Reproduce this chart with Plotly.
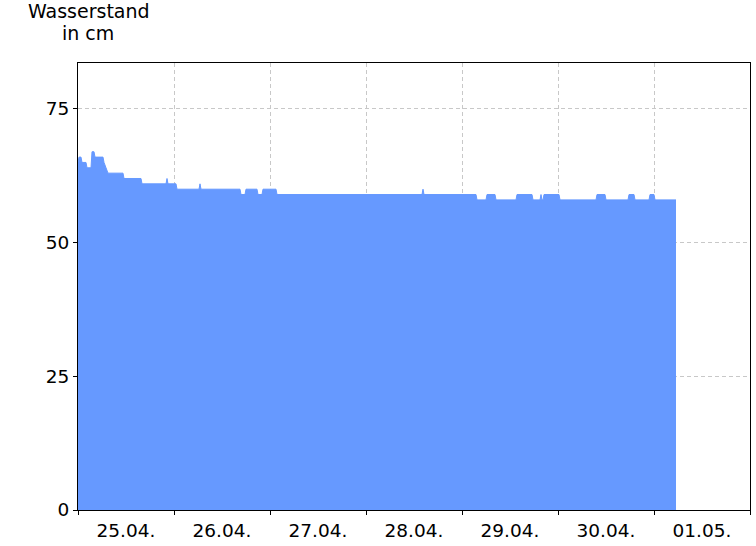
import pandas as pd
import plotly.graph_objects as go

start_date = "2024-04-25 00:00"
hours_since_start = [
    0.0, 0.25, 0.75, 1.0, 2.0, 2.25, 3.25, 3.5, 4.0, 4.25, 6.25, 6.5, 7.0, 7.5,
    11.25, 11.5, 15.75, 16.0, 22.0, 22.25, 22.5, 24.5, 24.75,
    30.25, 30.5, 30.75, 40.5, 40.75, 41.75, 42.0, 44.75, 45.0, 46.0, 46.25, 49.5, 49.75,
    86.0, 86.25, 86.5, 99.5, 99.75, 102.0, 102.25, 104.25, 104.5, 109.5, 109.75,
    113.5, 113.75, 115.5, 115.75, 116.0, 116.25, 116.5, 120.25, 120.5,
    129.5, 129.75, 131.75, 132.0, 137.5, 137.75, 139.0, 139.25,
    142.75, 143.0, 144.0, 144.25, 149.5,
]
water_level_cm = [
    65, 66, 66, 65, 65, 64, 64, 67, 67, 66, 66, 65, 64, 63,
    63, 62, 62, 61, 61, 62, 61, 61, 60,
    60, 61, 60, 60, 59, 59, 60, 60, 59, 59, 60, 60, 59,
    59, 60, 59, 59, 58, 58, 59, 59, 58, 58, 59,
    59, 58, 58, 59, 58, 58, 59, 59, 58,
    58, 59, 59, 58, 58, 59, 59, 58,
    58, 59, 59, 58, 58,
]
y_ticks = [0, 25, 50, 75]
x_range = ["2024-04-25 00:00", "2024-05-02 00:00"]
y_range = [0, 83.6]

times = pd.to_datetime(start_date) + pd.to_timedelta(hours_since_start, unit="h")

FONT = "DejaVu Sans, Arial, sans-serif"
fig = go.Figure()
fig.add_trace(go.Scatter(
    x=times, y=water_level_cm, mode="lines", fill="tozeroy",
    line=dict(color="#6699ff", width=1), fillcolor="#6699ff",
    hoverinfo="skip", showlegend=False,
))

fig.update_layout(
    width=756, height=546,
    margin=dict(l=78, r=5, t=63, b=33, pad=0),
    paper_bgcolor="white", plot_bgcolor="white",
    font=dict(family=FONT, size=18.5, color="black"),
    xaxis=dict(
        type="date", range=x_range, dtick=86400000, tick0="2024-04-25",
        tickformat="%d.%m.", ticklabelmode="period",
        showgrid=True, gridcolor="#c8c8c8", griddash="4px,3px", gridwidth=1,
        showline=True, linecolor="black", linewidth=1, mirror=True,
        ticks="outside", ticklen=4, tickcolor="black",
        zeroline=False, layer="above traces",
    ),
    yaxis=dict(
        range=y_range, tickvals=y_ticks,
        showgrid=True, gridcolor="#c8c8c8", griddash="4px,3px", gridwidth=1,
        showline=True, linecolor="black", linewidth=1, mirror=True,
        ticks="outside", ticklen=4, tickcolor="black",
        zeroline=False, layer="above traces",
    ),
    annotations=[
        dict(text="Wasserstand", xref="paper", yref="paper", x=(89 - 78) / 673,
             y=(513 - 10.5) / 450, xanchor="center", yanchor="middle",
             showarrow=False, font=dict(family=FONT, size=19)),
        dict(text="in cm", xref="paper", yref="paper", x=(88.5 - 78) / 673,
             y=(513 - 33.0) / 450, xanchor="center", yanchor="middle",
             showarrow=False, font=dict(family=FONT, size=19)),
    ],
)

fig.write_html(
    "out.html",
    config={"displayModeBar": False},
    post_script="document.body.style.margin='0';document.body.style.padding='0';",
)
